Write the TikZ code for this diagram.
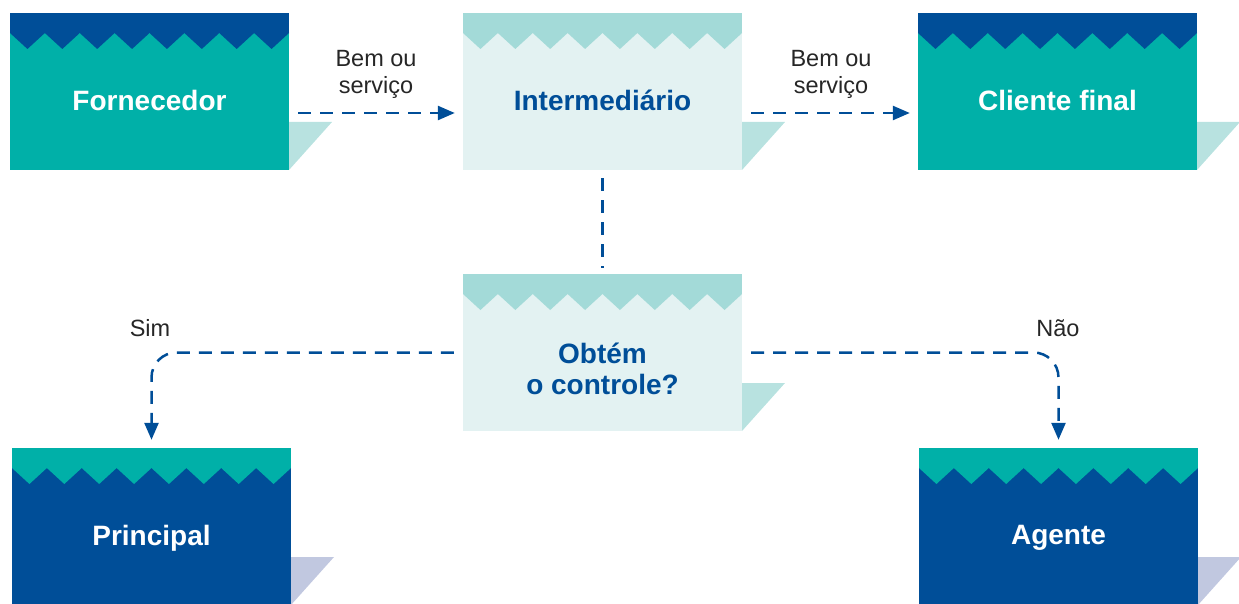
\documentclass[tikz,border=0pt]{standalone}
\usepackage{fontspec}
\setmainfont{Liberation Sans}
\usepackage{tikz}
\usepackage{xcolor}
\usetikzlibrary{arrows.meta, positioning}

\definecolor{azul}{HTML}{004E98}
\definecolor{verde}{HTML}{00B0A8}
\definecolor{verdeclaro}{HTML}{A3DAD8}
\definecolor{palido}{HTML}{E3F2F2}
\definecolor{dobraverde}{HTML}{B8E2E0}
\definecolor{dobraazul}{HTML}{C1C8E0}

\tikzset{
  caixa/.style={rectangle, minimum width=279pt, minimum height=157pt, inner sep=0pt},
  rotulo/.style={font=\fontsize{28}{31}\selectfont\bfseries, align=center},
  legenda/.style={font=\fontsize{23.5}{27}\selectfont, text=black!85, align=center},
  seta/.style={azul, line width=2.5pt, dash pattern=on 13pt off 9pt,
    -{Triangle[length=17pt, width=14pt]}, shorten <=9pt, shorten >=8pt},
}

% #1 name, #2 left, #3 top, #4 body, #5 band, #6 fold, #7 text colour, #8 text, #9 text offset
\newcommand{\papel}[9]{%
  \fill[#6] (#2+279,#3+109) -- (#2+322,#3+109) -- (#2+279,#3+157) -- cycle;
  \node[caixa, fill=#4] (#1) at (#2+139.5,#3+78.5) {};
  \fill[#5] (#1.north west) rectangle (#2+279,#3+20);
  \foreach \i in {0,...,7}
    \fill[#5] (#2+\i*34.875,#3+20) -- (#2+\i*34.875+34.875,#3+20) -- (#2+\i*34.875+17.44,#3+36) -- cycle;
  \node[rotulo, text=#7] (#1-t) at (#2+139.5,#3+#9) {#8};
}

\begin{document}
\begin{tikzpicture}[x=1pt, y=-1pt]
  \useasboundingbox (0,0) rectangle (1239,604);

  % Top row
  \papel{forn}{10}{13}{verde}{azul}{dobraverde}{white}{Fornecedor}{87}
  \papel{inter}{463}{13}{palido}{verdeclaro}{dobraverde}{azul}{Intermediário}{87}
  \papel{cliente}{918}{13}{verde}{azul}{dobraverde}{white}{Cliente final}{87}

  % Question
  \papel{obtem}{463}{274}{palido}{verdeclaro}{dobraverde}{azul}{Obtém\\o controle?}{95}

  % Outcomes
  \papel{principal}{12}{448}{azul}{verde}{dobraazul}{white}{Principal}{90}
  \papel{agente}{919}{448}{azul}{verde}{dobraazul}{white}{Agente}{90}

  % Flow of goods
  \draw[seta] ([yshift=-21.5pt]forn.east) -- ([yshift=-21.5pt]inter.west);
  \draw[seta] ([yshift=-21.5pt]inter.east) -- ([yshift=-21.5pt]cliente.west);
  \node[legenda] (bem1) at (376,74) {Bem ou\\serviço};
  \node[legenda] (bem2) at (831,74) {Bem ou\\serviço};

  % Link to question
  \draw[seta, -, shorten <=8pt, shorten >=6pt] (inter.south) -- (obtem.north);

  % Answers
  \draw[seta, rounded corners=25pt] (obtem.west) -| (principal.north);
  \draw[seta, rounded corners=25pt] (obtem.east) -| (agente.north);
  \node[legenda] (sim) at (150,328) {Sim};
  \node[legenda] (nao) at (1058,328) {Não};
\end{tikzpicture}
\end{document}
